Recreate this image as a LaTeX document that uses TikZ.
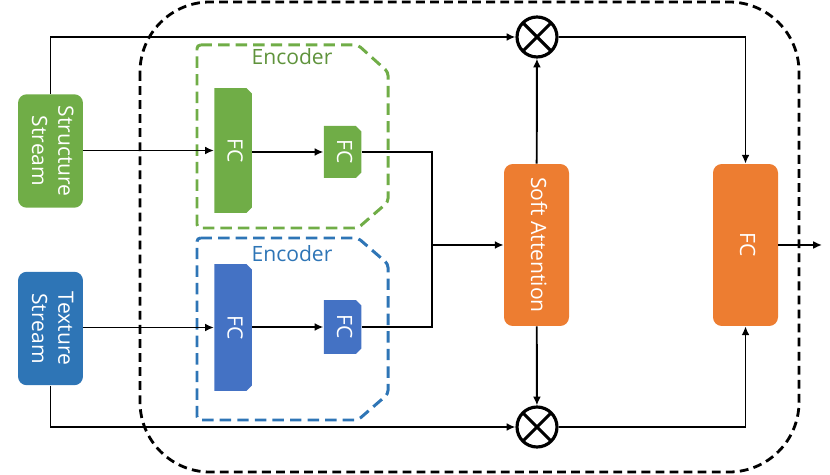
\documentclass[tikz,border=0pt]{standalone}
\usepackage{fontspec}
\setmainfont{Open Sans}
\usepackage{graphicx}
\usepackage{tikz}
\usetikzlibrary{positioning, arrows.meta}

\definecolor{sgreen}{HTML}{70AD47}
\definecolor{sblue}{HTML}{2E75B6}
\definecolor{fcblue}{HTML}{4472C4}
\definecolor{sorange}{HTML}{ED7D31}

\newcommand{\vtext}[1]{\rotatebox{-90}{\begin{tabular}{@{}c@{}}#1\end{tabular}}}

\begin{document}
\begin{tikzpicture}[x=0.02cm, y=-0.02cm, >={Latex[length=5pt,width=4.5pt]},
    font=\fontsize{12}{15}\selectfont,
    stream/.style={rounded corners=5pt, fill=#1, text=white, inner sep=0pt,
        minimum width=1.3cm, minimum height=2.27cm},
    block/.style={rounded corners=5pt, fill=sorange, text=white, inner sep=0pt,
        minimum width=1.3cm, minimum height=3.24cm},
    fcblk/.style 2 args={inner sep=0pt, text=white, minimum width=0.75cm, minimum height=#2,
        path picture={\fill[#1] (path picture bounding box.south west)
            -- (path picture bounding box.north west)
            -- ([xshift=-3pt]path picture bounding box.north east)
            -- ([yshift=-3pt]path picture bounding box.north east)
            -- ([yshift=3pt]path picture bounding box.south east)
            -- ([xshift=-3pt]path picture bounding box.south east) -- cycle;}},
    mult/.style={circle, draw, line width=1.8pt, minimum size=0.8cm, inner sep=0pt,
        path picture={\draw[line width=1.8pt]
            (path picture bounding box.north west) -- (path picture bounding box.south east)
            (path picture bounding box.north east) -- (path picture bounding box.south west);}},
    conn/.style={line width=1.1pt},
    enc/.style={line width=1.7pt, dash pattern=on 6.5pt off 3.5pt, rounded corners=2pt}]
\useasboundingbox (0,0) rectangle (830,475);

% outer block
\draw[line width=1.6pt, dash pattern=on 5pt off 3pt, rounded corners=1.4cm]
    (140,2) rectangle (799,472);

% encoders
\draw[enc, sgreen] (197,45) -- (358,45) -- (388,72) -- (388,202) -- (358,228) -- (197,228) -- cycle;
\node[text=sgreen!85!black] (encg) at (292,57) {Encoder};
\draw[enc, sblue] (197,238) -- (358,238) -- (388,264) -- (388,394) -- (358,420) -- (197,420) -- cycle;
\node[text=sblue] (encb) at (292,254) {Encoder};

% streams
\node[stream=sgreen] (ss) at (50.5,151) {\vtext{Structure\\Stream}};
\node[stream=sblue] (ts) at (50.5,328.5) {\vtext{Texture\\Stream}};

% FC layers
\node[fcblk={sgreen}{2.5cm}] (fcga) at (233,150.5) {\vtext{FC}};
\node[fcblk={sgreen}{1.04cm}] (fcgb) at (342.5,152) {\vtext{FC}};
\node[fcblk={fcblue}{2.54cm}] (fcba) at (233,327.5) {\vtext{FC}};
\node[fcblk={fcblue}{1.08cm}] (fcbb) at (342.5,327) {\vtext{FC}};

\node[block] (att) at (536.5,245) {\vtext{Soft Attention}};
\node[block] (fco) at (745.5,245) {\vtext{FC}};

\node[mult] (mt) at (537,37) {};
\node[mult] (mb) at (537,427) {};
\coordinate (mg) at (432,245);
\coordinate (out) at (822,245);

\draw[conn,->] (ss.east |- fcga) -- (fcga);
\draw[conn,->] (fcga.east |- fcgb) -- (fcgb);
\draw[conn,->] (ts.east |- fcba) -- (fcba);
\draw[conn,->] (fcba.east |- fcbb) -- (fcbb);
\draw[conn] (fcgb.east) -| (mg);
\draw[conn] (fcbb.east) -| (mg);
\draw[conn,->] (mg) -- (att);
\draw[conn,->] (ss.north) |- (mt);
\draw[conn,->] (ts.south) |- (mb);
\draw[conn,->] (att) -- (mt);
\draw[conn,->] (att) -- (mb);
\draw[conn,->] (mt) -| (fco);
\draw[conn,->] (mb) -| (fco);
\draw[conn,->] (fco) -- (out);
\end{tikzpicture}
\end{document}
